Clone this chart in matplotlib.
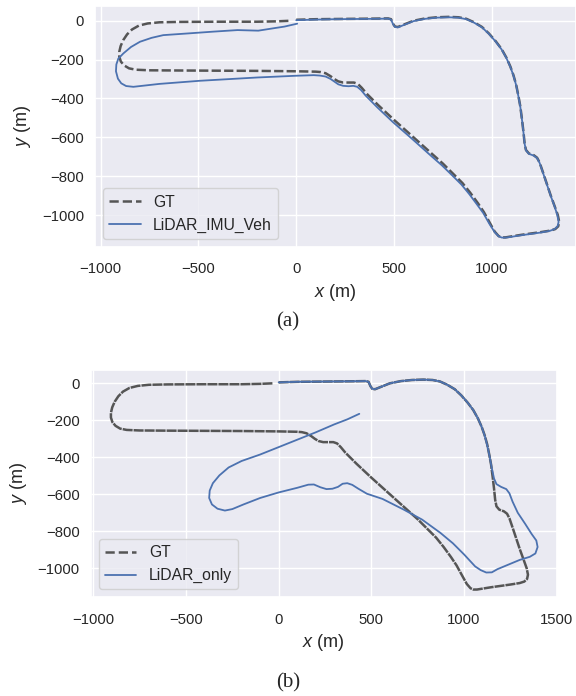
import numpy as np
import matplotlib
matplotlib.use("Agg")
import matplotlib.pyplot as plt
import seaborn as sns

# ground truth trajectory (m)
gt_x = [0, 100, 200, 300, 400, 470, 485, 495, 505, 520, 550, 600, 660, 720, 780, 830,
        870, 910, 950, 985, 1020, 1050, 1075, 1095, 1111, 1125, 1137, 1146, 1155, 1162,
        1168, 1175, 1190, 1215, 1232, 1245, 1262, 1282, 1302, 1322, 1338, 1345, 1340,
        1325, 1300, 1250, 1200, 1150, 1100, 1070, 1050, 1035, 1015, 990, 960, 930, 890,
        850, 800, 750, 700, 600, 500, 420, 360, 335, 315, 295, 270, 240, 215, 195, 175,
        150, 125, 100, 0, -200, -400, -600, -750, -820, -855, -880, -897, -905, -905,
        -898, -885, -865, -840, -805, -760, -700, -600, -400, -200, -100, -30]
gt_y = [5, 8, 9, 10, 11, 12, 8, -15, -30, -32, -20, 0, 12, 18, 20, 18,
        10, -8, -32, -65, -105, -145, -190, -235, -280, -330, -390, -440, -510, -570,
        -630, -665, -683, -692, -705, -730, -780, -840, -900, -955, -1000, -1035, -1058,
        -1072, -1080, -1088, -1095, -1102, -1110, -1115, -1115, -1108, -1085, -1040, -985, -940, -885,
        -835, -785, -735, -690, -600, -510, -435, -375, -345, -325, -318, -318, -318, -312, -300, -285,
        -270, -264, -262, -260, -258, -257, -256, -255, -252, -245, -230, -210, -185, -160,
        -130, -100, -70, -45, -25, -14, -8, -6, -5, -5, -3, 0]

# LiDAR + IMU + vehicle estimate (m)
liv_x = [0, 100, 200, 300, 400, 470, 485, 495, 505, 520, 550, 600, 660, 720, 780, 830,
         870, 910, 950, 985, 1020, 1050, 1075, 1095, 1111, 1125, 1137, 1146, 1155, 1162,
         1168, 1175, 1190, 1215, 1232, 1245, 1262, 1282, 1302, 1322, 1336, 1342, 1337,
         1322, 1298, 1250, 1200, 1150, 1100, 1070, 1052, 1036, 1015, 988, 957, 925, 885,
         845, 795, 745, 695, 595, 495, 415, 355, 332, 312, 292, 268, 240, 215, 195, 175,
         150, 120, 90, 0, -200, -494, -700, -833, -870, -895, -912, -922, -920, -910,
         -884, -845, -799, -740, -680, -550, -424, -300, -194, -118, -60, 5]
liv_y = [3, 6, 8, 9, 10, 11, 6, -17, -32, -34, -22, -2, 10, 16, 18, 16,
         8, -10, -34, -67, -107, -147, -192, -237, -282, -332, -392, -442, -512, -572,
         -632, -667, -685, -694, -707, -732, -782, -842, -902, -957, -1002, -1035, -1057,
         -1072, -1081, -1090, -1097, -1104, -1112, -1116, -1116, -1110, -1088, -1045, -990, -946, -892,
         -843, -793, -744, -700, -610, -522, -446, -385, -357, -340, -335, -337, -335, -327, -313, -299,
         -287, -282, -280, -283, -292, -309, -325, -340, -336, -322, -298, -260, -225, -195,
         -168, -135, -108, -88, -74, -65, -56, -48, -51, -39, -30, -15]

# LiDAR-only estimate (m)
lo_x = [0, 100, 200, 300, 400, 470, 485, 495, 505, 520, 550, 600, 660, 720, 780, 830,
        870, 910, 950, 985, 1020, 1050, 1075, 1095, 1112, 1125, 1138, 1150, 1162, 1175,
        1200, 1228, 1245, 1262, 1290, 1330, 1365, 1390, 1397, 1385, 1355, 1300, 1240,
        1180, 1150, 1120, 1090, 1060, 1000, 940, 873, 774, 675, 560, 476, 430, 397,
        370, 345, 320, 290, 258, 225, 190, 160, 100, 0, -100, -190, -250, -290, -330,
        -360, -375, -372, -355, -320, -270, -200, -100, 0, 100, 200, 300, 370, 435]
lo_y = [5, 8, 9, 10, 11, 12, 8, -15, -30, -32, -20, 0, 12, 18, 20, 18,
        10, -8, -32, -65, -105, -145, -190, -235, -285, -335, -395, -460, -515, -545,
        -560, -572, -595, -640, -700, -760, -815, -850, -885, -920, -938, -955, -980,
        -1005, -1022, -1023, -1010, -990, -925, -865, -809, -737, -683, -625, -597, -570, -549,
        -540, -543, -560, -570, -572, -562, -547, -548, -565, -590, -620, -655, -680, -688, -678,
        -655, -620, -580, -540, -498, -455, -420, -385, -345, -305, -265, -222, -195, -165]

x_ticks_a = [-1000, -500, 0, 500, 1000]
x_ticks_b = [-1000, -500, 0, 500, 1000, 1500]
y_ticks = [0, -200, -400, -600, -800, -1000]

panels = [
    ("LiDAR_IMU_Veh", liv_x, liv_y, (-1029, 1431), (-1163, 76), x_ticks_a, "(a)", (3.7, 1.3)),
    ("LiDAR_only", lo_x, lo_y, (-1014, 1500), (-1157, 72), x_ticks_b, "(b)", (4, 0.4)),
]
rects = [[0.165, 0.6455, 0.835, 0.3459], [0.1575, 0.1418, 0.809, 0.3266]]
cap_y = [1 - 322 / 696, 1 - 683 / 696]

sns.set_theme(style="darkgrid")
plt.rcParams['font.family'] = ['Liberation Sans', 'DejaVu Sans']
plt.rcParams['mathtext.fontset'] = 'custom'
plt.rcParams['mathtext.it'] = 'Liberation Sans:italic'
plt.rcParams['mathtext.rm'] = 'Liberation Sans'

fig = plt.figure(figsize=(5.76, 6.96), dpi=100)
for (name, ex, ey, xl, yl, xt, cap, dash), r, cy in zip(panels, rects, cap_y):
    ax = fig.add_axes(r)
    gt_line, = ax.plot(gt_x, gt_y, '--', color='#555555', lw=1.8, label='GT')
    gt_line.set_dashes(dash)
    ax.plot(ex, ey, '-', color='#4c72b0', lw=1.3, label=name)
    ax.set_xlim(*xl)
    ax.set_ylim(*yl)
    ax.set_xticks(xt)
    ax.set_yticks(y_ticks)
    ax.tick_params(axis='x', labelsize=10.7, pad=5)
    ax.tick_params(axis='y', labelsize=10.7, pad=2)
    ax.set_xlabel('$x$ (m)', fontsize=13, labelpad=4)
    ax.set_ylabel('$y$ (m)', fontsize=13, labelpad=6)
    leg = ax.legend(loc='lower left', fontsize=11.3)
    for h in leg.get_lines():
        if h.get_label() == 'GT':
            h.set_dashes((3.7, 1.6))
    fig.text(0.5, cy, cap, ha='center', va='center', fontsize=15,
             family='Liberation Serif')

plt.savefig('out.png', dpi=100)
